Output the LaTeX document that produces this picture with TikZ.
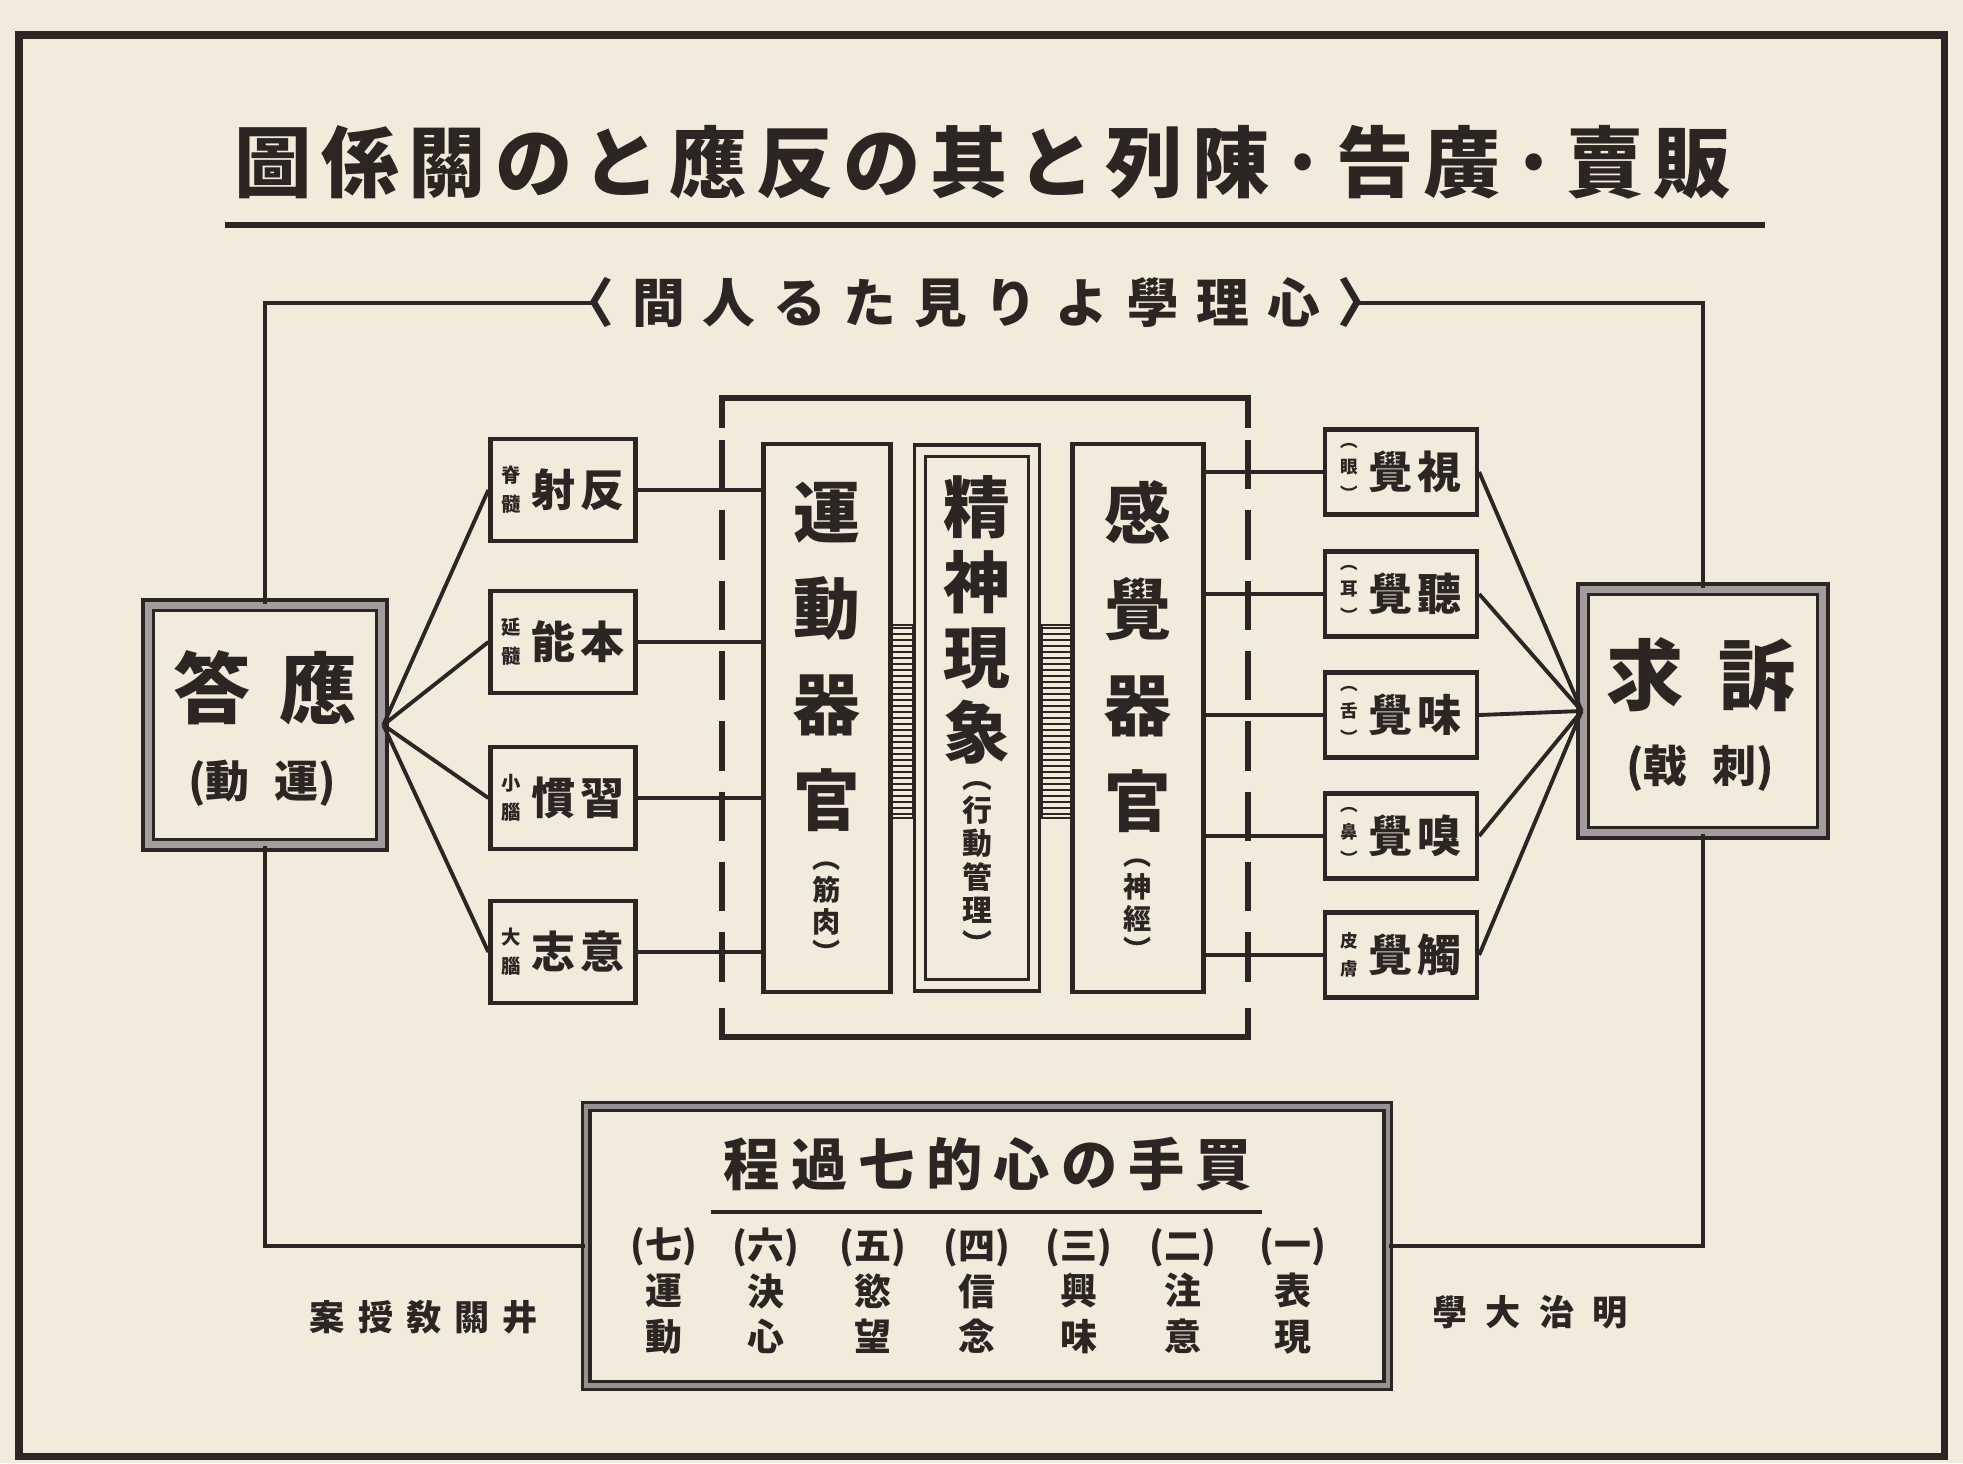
\documentclass[tikz,border=0pt]{standalone}
\usepackage{fontspec}
\setmainfont{Noto Sans CJK JP}
\definecolor{paper}{HTML}{F0EBDB}
\definecolor{ink}{HTML}{2B2623}
\newcommand\vann[1]{\raisebox{1.6pt}{$\vcenter{\hbox{\fontsize{5.5}{6}\selectfont\shortstack{#1}}}$}}
\newcommand\rann[1]{\raisebox{1.6pt}{$\vcenter{\hbox{\fontsize{5}{5.4}\selectfont\shortstack{#1}}}$}}
\begin{document}
\begin{tikzpicture}[x=0.01cm,y=-0.01cm,
  every node/.style={text=ink},
  conn/.style={draw=ink, line width=1.1pt},
  loopline/.style={draw=ink, line width=1pt},
  lbox/.style={draw=ink, line width=1.2pt, fill=paper, inner sep=0pt, minimum width=1.45cm, minimum height=1.02cm, font=\fontsize{12.5}{12.5}\selectfont\bfseries},
  rbox/.style={lbox, minimum width=1.52cm, minimum height=0.85cm},
  bigbox/.style={draw=ink, line width=1.2pt, fill=paper, inner sep=0pt, minimum height=5.48cm},
  heavybox/.style={draw=ink, line width=1pt, double=ink!45, double distance=2pt, fill=paper, inner sep=0pt},
  vmain/.style={align=center, inner sep=0pt, font=\fontsize{19}{27.3}\selectfont\bfseries},
  vsub/.style={align=center, inner sep=0pt, font=\fontsize{8}{9}\selectfont\bfseries},
  colt/.style={align=center, inner sep=0pt, font=\fontsize{10.5}{13}\selectfont\bfseries},
  foot/.style={inner sep=0pt, font=\fontsize{10}{10}\selectfont\bfseries},
]
\useasboundingbox (0,0) rectangle (1963,1463);
\fill[paper] (0,0) rectangle (1963,1463);
% outer frame
\draw[ink, line width=2pt] (19,35) rectangle (1944,1456);

% title
\node[inner sep=0pt, font=\fontsize{22}{22}\selectfont\bfseries] (title) at (983,162)
  {\makebox[14.96cm]{圖\hfill 係\hfill 關\hfill の\hfill と\hfill 應\hfill 反\hfill の\hfill 其\hfill と\hfill 列\hfill 陳\hfill ·\hfill 告\hfill 廣\hfill ·\hfill 賣\hfill 販}};
\draw[ink, line width=1.6pt] (225,225) -- (1765,225);

% subtitle
\node[inner sep=0pt, font=\fontsize{15}{15}\selectfont\bfseries] (sub) at (976,303)
  {\makebox[7.63cm]{\kern-.62em〈\hfill 間\hfill 人\hfill る\hfill た\hfill 見\hfill り\hfill よ\hfill 學\hfill 理\hfill 心\hfill 〉\kern-.62em}};

% response / appeal boxes
\node[heavybox, minimum width=2.33cm, minimum height=2.39cm] (ans) at (265,725) {};
\node[inner sep=0pt, font=\fontsize{22}{22}\selectfont\bfseries] (ansT) at (265,688) {答\hspace{8pt}應};
\node[inner sep=0pt, font=\fontsize{12.5}{12.5}\selectfont\bfseries] (ansS) at (262,783) {(動\hspace{7pt}運)};

\node[heavybox, minimum width=2.39cm, minimum height=2.43cm] (app) at (1703,711) {};
\node[inner sep=0pt, font=\fontsize{22}{22}\selectfont\bfseries] (appT) at (1701,675) {求\hspace{10pt}訴};
\node[inner sep=0pt, font=\fontsize{12.5}{12.5}\selectfont\bfseries] (appS) at (1700,768) {(戟\hspace{7pt}刺)};

% process box
\node[draw=ink, line width=0.9pt, double=ink!50, double distance=1.2pt, fill=paper, inner sep=0pt, minimum width=8.01cm, minimum height=2.79cm] (proc) at (987,1246) {};
\node[inner sep=0pt, font=\fontsize{16}{16}\selectfont\bfseries] (procT) at (988,1164)
  {\makebox[5.28cm]{程\hfill 過\hfill 七\hfill 的\hfill 心\hfill の\hfill 手\hfill 買}};
\draw[ink, line width=1.2pt] (711,1212) -- (1262,1212);
\node[colt] (s7) at (664,1291) {(七)\\運\\動};
\node[colt] (s6) at (766,1291) {(六)\\決\\心};
\node[colt] (s5) at (873,1291) {(五)\\慾\\望};
\node[colt] (s4) at (977,1291) {(四)\\信\\念};
\node[colt] (s3) at (1079,1291) {(三)\\興\\味};
\node[colt] (s2) at (1183,1291) {(二)\\注\\意};
\node[colt] (s1) at (1293,1291) {(一)\\表\\現};

% footers
\node[foot] (auth) at (424,1317) {\makebox[2.28cm]{案\hfill 授\hfill 敎\hfill 關\hfill 井}};
\node[foot] (univ) at (1530,1312) {\makebox[1.95cm]{學\hfill 大\hfill 治\hfill 明}};

% loop line
\draw[loopline] (ans.north) |- (sub.west);
\draw[loopline] (sub.east) -| (app.north);
\draw[loopline] (app.south) |- (proc.east);
\draw[loopline] (proc.west) -| (ans.south);

% inner bracket frame
\draw[ink, line width=1.7pt] (722,428) -- (722,398) -- (1248,398) -- (1248,428);
\draw[ink, line width=1.7pt] (722,1008) -- (722,1037) -- (1248,1037) -- (1248,1008);
\draw[ink, line width=1.5pt, dash pattern=on 14pt off 6pt] (722,440) -- (722,1000);
\draw[ink, line width=1.5pt, dash pattern=on 14pt off 6pt] (1248,440) -- (1248,1000);

% organ boxes
\node[bigbox, minimum width=1.27cm] (motor) at (827,718) {};
\node[bigbox, line width=0.9pt, double=paper, double distance=2.4pt, minimum width=1.14cm, minimum height=5.34cm] (mind) at (977,718) {};
\node[bigbox, minimum width=1.31cm] (sense) at (1138,718) {};

\node[vmain] (motorT) at (827,657) {運\\動\\器\\官};
\node[vsub] (motorS) at (827,913) {︵\\筋\\肉\\︶};
\node[vmain, font=\fontsize{19}{21.3}\selectfont\bfseries] (mindT) at (977,620) {精\\神\\現\\象};
\node[vsub, font=\fontsize{8.5}{9.5}\selectfont\bfseries] (mindS) at (977,868) {︵\\行\\動\\管\\理\\︶};
\node[vmain] (senseT) at (1138,657) {感\\覺\\器\\官};
\node[vsub] (senseS) at (1138,910) {︵\\神\\經\\︶};

% springs between organ boxes
\foreach \yy in {628,634,...,816} {
  \draw[ink, line width=0.45pt] (892,\yy) -- (913,\yy);
  \draw[ink, line width=0.45pt] (1042,\yy) -- (1071,\yy);
}
\draw[ink, line width=0.8pt] (892,625) rectangle (913,818);
\draw[ink, line width=0.8pt] (1042,625) rectangle (1071,818);

% left small boxes
\node[lbox] (l1) at (563,490) {\vann{脊\\髓}\hspace{3pt}射\hspace{1.5pt}反};
\node[lbox] (l2) at (563,642) {\vann{延\\髓}\hspace{3pt}能\hspace{1.5pt}本};
\node[lbox] (l3) at (563,798) {\vann{小\\腦}\hspace{3pt}慣\hspace{1.5pt}習};
\node[lbox] (l4) at (563,952) {\vann{大\\腦}\hspace{3pt}志\hspace{1.5pt}意};

% right small boxes
\node[rbox] (r1) at (1401,472) {\rann{︵\\眼\\︶}\hspace{3pt}覺\hspace{1.5pt}視};
\node[rbox] (r2) at (1401,594) {\rann{︵\\耳\\︶}\hspace{3pt}覺\hspace{1.5pt}聽};
\node[rbox] (r3) at (1401,715) {\rann{︵\\舌\\︶}\hspace{3pt}覺\hspace{1.5pt}味};
\node[rbox] (r4) at (1401,836) {\rann{︵\\鼻\\︶}\hspace{3pt}覺\hspace{1.5pt}嗅};
\node[rbox] (r5) at (1401,955) {\rann{皮\\膚}\hspace{3pt}覺\hspace{1.5pt}觸};

% connectors
\foreach \n in {l1,l2,l3,l4} {
  \draw[conn] (ans.east) -- (\n.west);
  \draw[conn] (\n.east) -- (\n.east -| motor.west);
}
\foreach \n in {r1,r2,r3,r4,r5} {
  \draw[conn] (app.west) -- (\n.east);
  \draw[conn] (\n.west -| sense.east) -- (\n.west);
}
\end{tikzpicture}
\end{document}
